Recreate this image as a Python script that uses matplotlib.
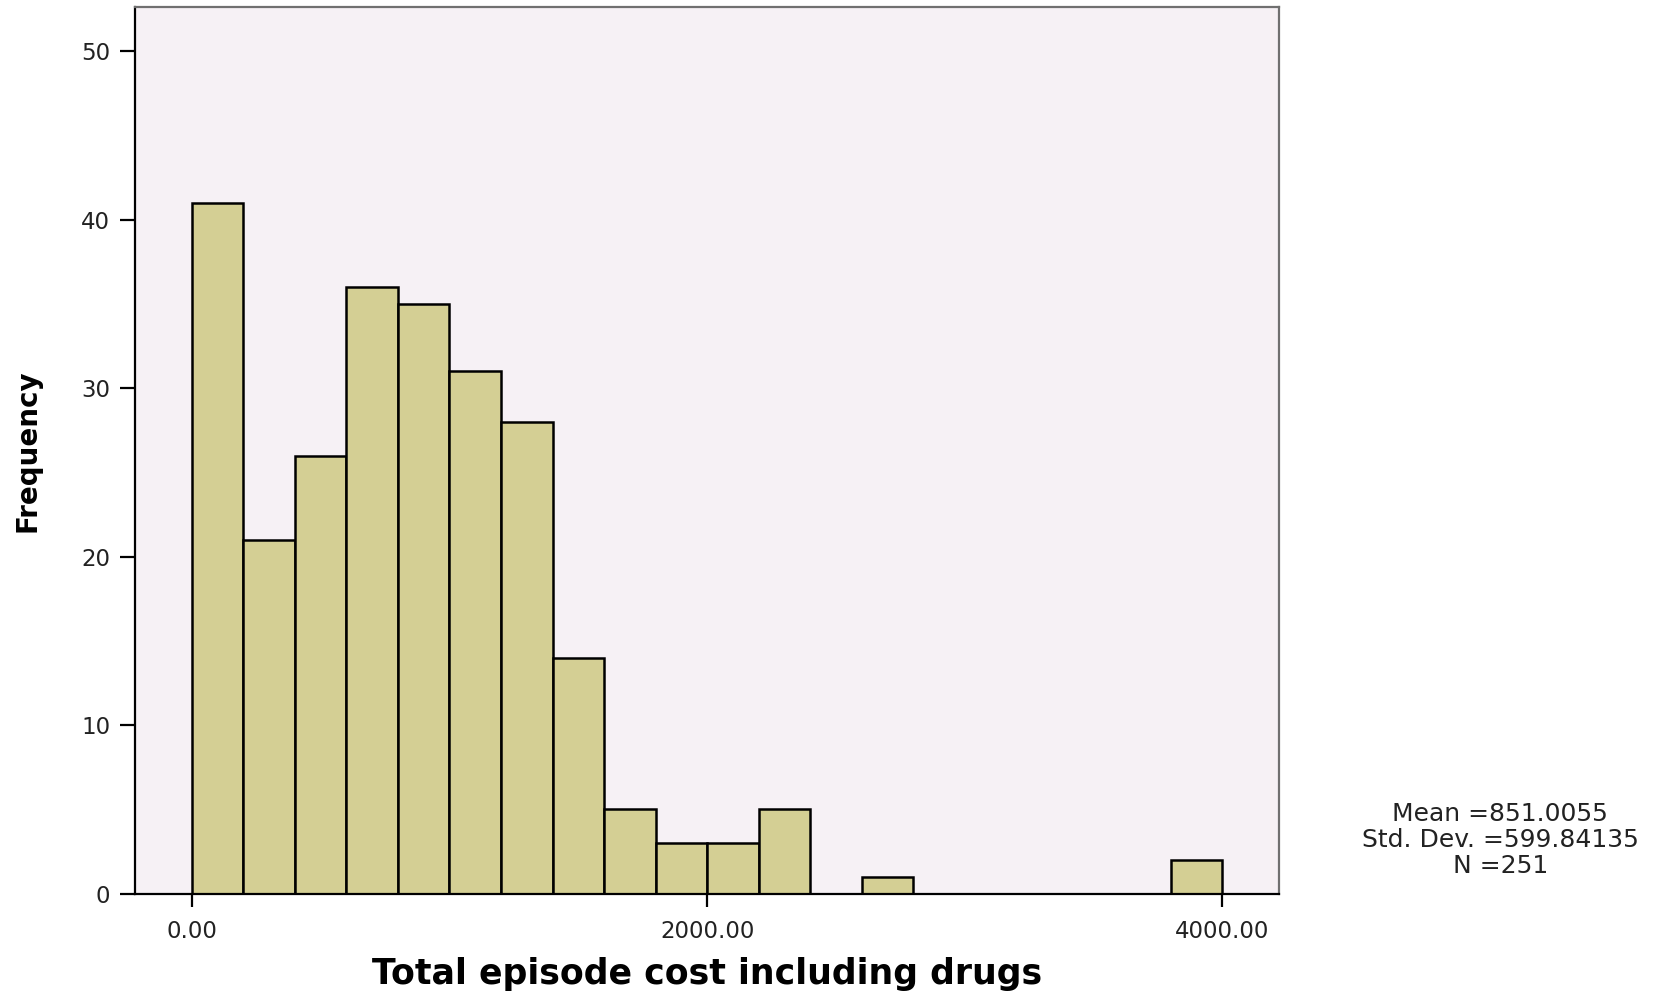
import numpy as np
import matplotlib.pyplot as plt

# histogram bins (width 200) and frequencies per bin
bin_edges = np.arange(0, 4200, 200)
counts = [41, 21, 26, 36, 35, 31, 28, 14, 5, 3, 3, 5, 0, 1, 0, 0, 0, 0, 0, 2]

x_ticks = [0, 2000, 4000]
x_tick_labels = ["0.00", "2000.00", "4000.00"]
y_ticks = [0, 10, 20, 30, 40, 50]

mean_val = "851.0055"
std_val = "599.84135"
n_val = "251"

plt.rcParams['font.family'] = ['DejaVu Sans']

fig = plt.figure(figsize=(16.8, 9.96), dpi=100)
ax = fig.add_axes([0.0804, 0.1028, 0.6810, 0.8897])
ax.set_facecolor("#f6f1f5")

left = bin_edges[:-1]
nz = [i for i, c in enumerate(counts) if c > 0]
ax.bar(left[nz], np.array(counts)[nz], width=200, align="edge",
       color="#d4cf94", edgecolor="black", linewidth=1.8, zorder=2)

ax.set_xlim(-220, 4220)
ax.set_ylim(0, 52.6)
ax.set_xticks(x_ticks)
ax.set_xticklabels(x_tick_labels)
ax.set_yticks(y_ticks)

ax.tick_params(axis="y", length=11, width=1.6, pad=7, labelsize=16.5,
               labelcolor="#222222")
ax.tick_params(axis="x", length=9, width=1.6, pad=10, labelsize=16.5,
               labelcolor="#222222")

for side in ["left", "bottom"]:
    ax.spines[side].set_color("black")
    ax.spines[side].set_linewidth(1.6)
for side in ["top", "right"]:
    ax.spines[side].set_color("#707070")
    ax.spines[side].set_linewidth(1.6)

ax.set_xlabel("Total episode cost including drugs", fontsize=25,
              fontweight="bold", va="top")
ax.xaxis.set_label_coords(0.5, -0.072)
ax.set_ylabel("Frequency", fontsize=20, fontweight="bold")
ax.yaxis.set_label_coords(-0.082, 0.5)

fig.text(0.893, 0.157,
         f"Mean ={mean_val}\nStd. Dev. ={std_val}\nN ={n_val}",
         ha="center", va="center", multialignment="center",
         fontsize=18, color="#222222", linespacing=1.1)

fig.savefig("out.png", dpi=100)
